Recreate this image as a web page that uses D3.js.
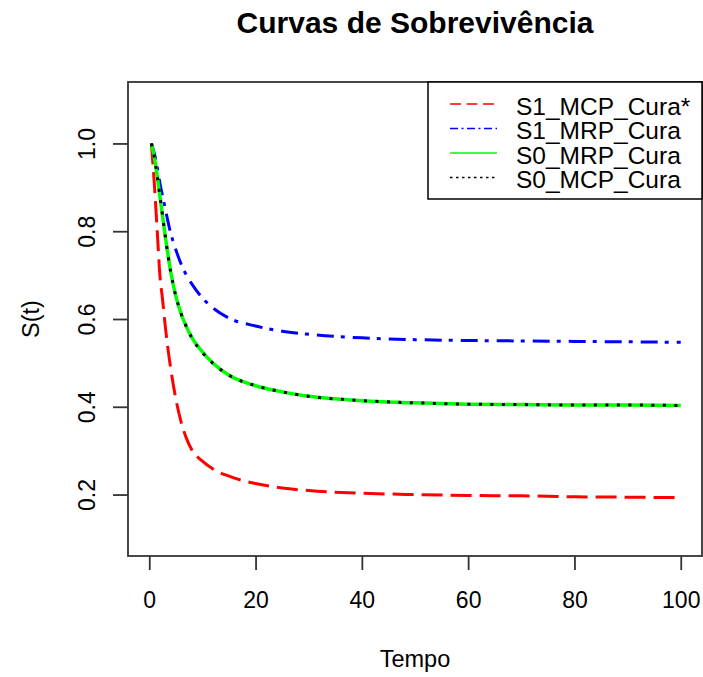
<!DOCTYPE html>
<html>
<head>
<meta charset="utf-8">
<script src="https://cdn.jsdelivr.net/npm/d3@7"></script>
<style>
  body { margin: 0; background: #fff; }
  text { font-family: "Liberation Sans", Arial, sans-serif; fill: #000; }
</style>
</head>
<body>
<div id="vi1"></div>
<script>
const W = 703, H = 677;
const margin = { top: 82, right: 1, bottom: 121, left: 128 };
const width = W - margin.left - margin.right;
const height = H - margin.top - margin.bottom;

// data
const tempo = [0.4, 1, 1.5, 2, 2.5, 3, 4, 5, 6, 7, 8, 10, 12, 15, 20, 25, 30, 40, 50, 60, 70, 80, 90, 100];
const s1MCP = [1.0, 0.90, 0.80, 0.70, 0.645, 0.585, 0.49, 0.418, 0.365, 0.328, 0.302, 0.276, 0.258, 0.242, 0.225, 0.215, 0.209, 0.203, 0.2, 0.198, 0.197, 0.195, 0.194, 0.193];
const s1MRP = [1.0, 0.975, 0.945, 0.91, 0.88, 0.852, 0.797, 0.758, 0.725, 0.70, 0.68, 0.648, 0.625, 0.602, 0.584, 0.572, 0.565, 0.557, 0.553, 0.551, 0.55, 0.549, 0.548, 0.547];
const s0MRP = [1.0, 0.965, 0.925, 0.88, 0.835, 0.79, 0.71, 0.652, 0.612, 0.582, 0.558, 0.525, 0.499, 0.472, 0.448, 0.434, 0.424, 0.414, 0.409, 0.406, 0.405, 0.404, 0.404, 0.403];
const s0MCP = [1.0, 0.966, 0.926, 0.881, 0.836, 0.79, 0.71, 0.652, 0.612, 0.582, 0.557, 0.524, 0.499, 0.472, 0.448, 0.434, 0.424, 0.414, 0.409, 0.406, 0.405, 0.404, 0.404, 0.403];
const xTicks = [0, 20, 40, 60, 80, 100];
const yTicks = [0.2, 0.4, 0.6, 0.8, 1.0];

const series = [
  { label: "S1_MCP_Cura*", values: s1MCP, color: "#ff0000", dash: "21,8", legDash: "11,5.5", w: 3 },
  { label: "S1_MRP_Cura", values: s1MRP, color: "#0000ff", dash: "17,7,4,8", legDash: "8,3.5,2,3.5", w: 3 },
  { label: "S0_MRP_Cura", values: s0MRP, color: "#00ff00", dash: null, legDash: null, w: 3.5 },
  { label: "S0_MCP_Cura", values: s0MCP, color: "#000000", dash: "3,8.5", legDash: "2.5,3.5", w: 3 }
];

const svg = d3.select("#vi1")
  .append("svg")
    .attr("width", W)
    .attr("height", H);

const g = svg.append("g")
  .attr("transform", `translate(${margin.left}, ${margin.top})`);

const x = d3.scaleLinear().domain([-4, 104]).range([0, width]);
const y = d3.scaleLinear().domain([0.06, 1.14]).range([height, 0]);

// lines
const line = d3.line()
  .curve(d3.curveMonotoneX)
  .x(d => x(d[0]))
  .y(d => y(d[1]));

g.selectAll(".curve")
  .data(series)
  .join("path")
    .attr("class", "curve")
    .attr("fill", "none")
    .attr("stroke", d => d.color)
    .attr("stroke-width", d => d.w)
    .attr("stroke-dasharray", d => d.dash)
    .attr("d", d => line(tempo.map((t, i) => [t, d.values[i]])));

// axes
const xAxis = g.append("g")
  .attr("transform", `translate(0, ${height})`)
  .call(d3.axisBottom(x).tickValues(xTicks).tickSize(14).tickPadding(22).tickFormat(d3.format("d")));
const yAxis = g.append("g")
  .call(d3.axisLeft(y).tickValues(yTicks).tickSize(15).tickFormat(d3.format(".1f")));

[xAxis, yAxis].forEach(a => {
  a.select(".domain").remove();
  a.selectAll(".tick line").attr("stroke", "#333").attr("stroke-width", 1.8);
  a.selectAll(".tick text")
    .attr("font-size", 23)
    .attr("font-family", "Liberation Sans, Arial, sans-serif")
    .attr("fill", "#000");
});

yAxis.selectAll(".tick text")
  .attr("x", null).attr("dy", null)
  .attr("text-anchor", "middle")
  .attr("transform", "translate(-33, 0) rotate(-90)");

// box
g.append("rect")
  .attr("x", 0).attr("y", 0)
  .attr("width", width).attr("height", height)
  .attr("fill", "none")
  .attr("stroke", "#333")
  .attr("stroke-width", 1.8);

// legend
const legend = g.append("g")
  .attr("transform", `translate(${x(104) - 274}, 0)`);

legend.append("rect")
  .attr("x", 0).attr("y", 0)
  .attr("width", 274).attr("height", 117)
  .attr("fill", "#fff")
  .attr("stroke", "#000")
  .attr("stroke-width", 1.5);

legend.selectAll("line")
  .data(series)
  .join("line")
    .attr("x1", 22).attr("x2", 69)
    .attr("y1", (d, i) => 22 + i * 24.5)
    .attr("y2", (d, i) => 22 + i * 24.5)
    .attr("stroke", d => d.color)
    .attr("stroke-width", 1.6)
    .attr("stroke-dasharray", d => d.legDash);

legend.selectAll("text")
  .data(series)
  .join("text")
    .attr("x", 88)
    .attr("y", (d, i) => 22 + i * 24.5 + 10.5)
    .attr("font-size", 24.5)
    .text(d => d.label);

// titles
svg.append("text")
  .attr("x", margin.left + width / 2)
  .attr("y", 33)
  .attr("text-anchor", "middle")
  .attr("font-size", 30)
  .attr("font-weight", "bold")
  .text("Curvas de Sobrevivência");

svg.append("text")
  .attr("x", margin.left + width / 2)
  .attr("y", 667)
  .attr("text-anchor", "middle")
  .attr("font-size", 23.5)
  .text("Tempo");

svg.append("text")
  .attr("transform", `translate(39, ${margin.top + height / 2}) rotate(-90)`)
  .attr("text-anchor", "middle")
  .attr("font-size", 23.5)
  .text("S(t)");
</script>
</body>
</html>
